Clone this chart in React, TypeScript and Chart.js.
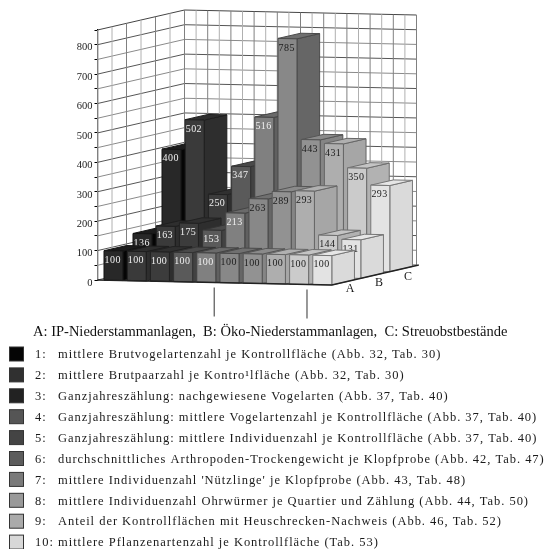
import React, { useEffect, useRef } from "react";
import { Chart, registerables, ScatterController } from "chart.js";

Chart.register(...registerables);

const rowNames = ["A", "B", "C"];
const seriesIds = ["1", "2", "3", "4", "5", "6", "7", "8", "9", "10"];
const rowA = [100, 100, 100, 100, 100, 100, 100, 100, 100, 100];
const rowB = [136, 163, 175, 153, 213, 263, 289, 293, 144, 131];
const rowC = [400, 502, 250, 347, 516, 785, 443, 431, 350, 293];
const yTicksMax = 850;

const frontColors = ["#282828", "#3a3a3a", "#3c3c3c", "#5a5a5a", "#808080", "#888888", "#929292", "#aeaeae", "#cbcbcb", "#e3e3e3"];
const sideColors = ["#050505", "#2e2e2e", "#2e2e2e", "#424242", "#606060", "#666666", "#858585", "#a6a6a6", "#b2b2b2", "#dadada"];
const topColors = ["#1c1c1c", "#2e2e2e", "#303030", "#4a4a4a", "#6a6a6a", "#707070", "#8a8a8a", "#b0b0b0", "#c4c4c4", "#e6e6e6"];
const edgeColors = ["#141414", "#1e1e1e", "#222222", "#333333", "#444444", "#4a4a4a", "#555555", "#666666", "#6e6e6e", "#777777"];
const swatchColors = ["#050505", "#303030", "#222222", "#555555", "#444444", "#5c5c5c", "#7a7a7a", "#999999", "#aaaaaa", "#d8d8d8"];

const legendTitle = "A: IP-Niederstammanlagen,  B: Öko-Niederstammanlagen,  C: Streuobstbestände";
const legendTexts = [
  "mittlere Brutvogelartenzahl je Kontrollfläche (Abb. 32, Tab. 30)",
  "mittlere Brutpaarzahl je Kontro¹lfläche (Abb. 32, Tab. 30)",
  "Ganzjahreszählung: nachgewiesene Vogelarten (Abb. 37, Tab. 40)",
  "Ganzjahreszählung: mittlere Vogelartenzahl je Kontrollfläche (Abb. 37, Tab. 40)",
  "Ganzjahreszählung: mittlere Individuenzahl je Kontrollfläche (Abb. 37, Tab. 40)",
  "durchschnittliches Arthropoden-Trockengewicht je Klopfprobe (Abb. 42, Tab. 47)",
  "mittlere Individuenzahl 'Nützlinge' je Klopfprobe (Abb. 43, Tab. 48)",
  "mittlere Individuenzahl Ohrwürmer je Quartier und Zählung (Abb. 44, Tab. 50)",
  "Anteil der Kontrollflächen mit Heuschrecken-Nachweis (Abb. 46, Tab. 52)",
  "mittlere Pflanzenartenzahl je Kontrollfläche (Tab. 53)",
];
const groupMarkers = [5.03, 9.03];

const SERIF = '"Liberation Serif"';

// oblique projection of (series, value, depth) through the chart's scales
function project(chart: any, x: number, y: number, z: number): [number, number] {
  const xs = chart.scales.x;
  const ys = chart.scales.y;
  const ds = chart.scales.depth;
  const px = xs.getPixelForValue(x);
  const py = ys.getPixelForValue(y);
  const dn = (ds.getPixelForValue(z) - ds.left) / ds.width;
  const sx = (px - xs.left) / xs.width;
  return [px + dn * 87, py + sx * 5 - dn * 20];
}

function poly(ctx: CanvasRenderingContext2D, pts: [number, number][], fill: string, stroke: string) {
  ctx.beginPath();
  pts.forEach((p, i) => (i ? ctx.lineTo(p[0], p[1]) : ctx.moveTo(p[0], p[1])));
  ctx.closePath();
  ctx.fillStyle = fill;
  ctx.fill();
  ctx.strokeStyle = stroke;
  ctx.lineWidth = 1;
  ctx.stroke();
}

const BAR_OFFSET = 0.28;
const BAR_WIDTH = 0.82;
const BAR_DEPTH = 0.78;

class Bar3DController extends ScatterController {
  static id = "bar3d";
  static defaults = { ...ScatterController.defaults };
  draw() {
    const chart: any = this.chart;
    const ctx: CanvasRenderingContext2D = chart.ctx;
    const data: any[] = this.getDataset().data as any[];
    const row = this.index;
    const z0 = row;
    const z1 = row + BAR_DEPTH;
    ctx.save();
    data.forEach((d, i) => {
      const x0 = d.x + BAR_OFFSET;
      const x1 = x0 + BAR_WIDTH;
      const edge = edgeColors[i];
      const A = project(chart, x0, 0, z0);
      const B = project(chart, x1, 0, z0);
      const C = project(chart, x1, d.y, z0);
      const D = project(chart, x0, d.y, z0);
      const E = project(chart, x1, 0, z1);
      const F = project(chart, x1, d.y, z1);
      const G = project(chart, x0, d.y, z1);
      poly(ctx, [B, E, F, C], sideColors[i], edge);
      poly(ctx, [D, C, F, G], topColors[i], edge);
      poly(ctx, [A, B, C, D], frontColors[i], edge);
      (ctx as any).letterSpacing = "0.4px";
      ctx.font = `10px ${SERIF}`;
      ctx.textAlign = "center";
      ctx.textBaseline = "middle";
      ctx.fillStyle = i < 5 ? "#f0f0f0" : "#1c1c1c";
      ctx.fillText(String(d.y), (D[0] + C[0]) / 2 - 0.8, D[1] + 9.5);
      (ctx as any).letterSpacing = "0px";
    });
    ctx.restore();
  }
}
Chart.register(Bar3DController as any);

const wallsPlugin = {
  id: "walls",
  beforeDatasetsDraw(chart: any) {
    const ctx: CanvasRenderingContext2D = chart.ctx;
    const line = (a: [number, number], b: [number, number], color = "#8a8a8a", w = 1) => {
      ctx.beginPath();
      ctx.moveTo(a[0], a[1]);
      ctx.lineTo(b[0], b[1]);
      ctx.strokeStyle = color;
      ctx.lineWidth = w;
      ctx.stroke();
    };
    ctx.save();
    for (let v = 0; v <= yTicksMax; v += 50) {
      const color = v === yTicksMax ? "#444444" : v % 100 === 0 ? "#555555" : "#8a8a8a";
      line(project(chart, 0, v, 0), project(chart, 0, v, 3), color);
      line(project(chart, 0, v, 3), project(chart, 10, v, 3), color);
    }
    for (let i = 0; i <= 20; i++) {
      const x = i / 2;
      line(project(chart, x, 0, 3), project(chart, x, yTicksMax, 3), i % 2 ? "#b0b0b0" : "#808080");
    }
    for (let i = 0; i <= 6; i++) {
      const z = i / 2;
      line(project(chart, 0, 0, z), project(chart, 0, yTicksMax, z), i % 2 ? "#b0b0b0" : "#808080");
    }
    ctx.restore();
  },
  afterDatasetsDraw(chart: any) {
    const ctx: CanvasRenderingContext2D = chart.ctx;
    const a = project(chart, 0, 0, 0);
    const b = project(chart, 10.1, 0, 0);
    const c = project(chart, 10.1, 0, 3);
    ctx.save();
    ctx.beginPath();
    ctx.moveTo(a[0], a[1]);
    ctx.lineTo(b[0], b[1]);
    ctx.lineTo(c[0], c[1]);
    ctx.strokeStyle = "#222222";
    ctx.lineWidth = 1.4;
    ctx.stroke();
    ctx.restore();
  },
  afterDraw(chart: any) {
    const ctx: CanvasRenderingContext2D = chart.ctx;
    ctx.save();
    // group marker lines under the floor
    groupMarkers.forEach((m) => {
      const p = project(chart, m, 0, 0);
      ctx.beginPath();
      ctx.moveTo(p[0], p[1] + 5);
      ctx.lineTo(p[0], p[1] + 34);
      ctx.strokeStyle = "#333333";
      ctx.lineWidth = 1;
      ctx.stroke();
    });
    // depth axis letters
    ctx.fillStyle = "#1a1a1a";
    ctx.font = `12px ${SERIF}`;
    ctx.textAlign = "center";
    ctx.textBaseline = "middle";
    rowNames.forEach((n, r) => {
      const p = project(chart, 10.4, 0, r + 0.39);
      ctx.fillText(n, p[0], p[1] + 6.5 + r * 0.6);
    });
    // caption and key
    ctx.textAlign = "left";
    ctx.fillStyle = "#111111";
    ctx.font = `14.52px ${SERIF}`;
    ctx.fillText(legendTitle, 33, 332);
    ctx.font = `12.5px ${SERIF}`;
    (ctx as any).letterSpacing = "0.97px";
    legendTexts.forEach((t, i) => {
      const y = 354.5 + i * 20.9;
      ctx.fillStyle = swatchColors[i];
      ctx.fillRect(9.5, y - 7.5, 14, 14);
      ctx.strokeStyle = "#333333";
      ctx.lineWidth = 1;
      ctx.strokeRect(9.5, y - 7.5, 14, 14);
      ctx.fillStyle = "#1a1a1a";
      ctx.fillText(`${seriesIds[i]}:`, 35, y + 0.5);
      ctx.fillText(t, 58, y + 0.5);
    });
    ctx.restore();
  },
};

const toPoints = (vals: number[]) => vals.map((v, i) => ({ x: i, y: v }));

export default function App() {
  const ref = useRef<HTMLCanvasElement>(null);
  useEffect(() => {
    const chart = new Chart(ref.current as HTMLCanvasElement, {
      type: "bar3d" as any,
      data: {
        datasets: [
          { label: rowNames[0], data: toPoints(rowA), clip: false },
          { label: rowNames[1], data: toPoints(rowB), clip: false },
          { label: rowNames[2], data: toPoints(rowC), clip: false },
        ] as any,
      },
      plugins: [wallsPlugin],
      options: {
        animation: false,
        responsive: false,
        events: [],
        layout: { padding: { left: 67.5, right: 220.5, top: 30, bottom: 269 } },
        plugins: { legend: { display: false }, tooltip: { enabled: false }, title: { display: false } },
        scales: {
          x: { type: "linear", min: 0, max: 10, display: false },
          depth: { type: "linear", axis: "x", min: 0, max: 3, display: false },
          y: {
            type: "linear",
            min: 0,
            max: yTicksMax,
            afterFit: (s: any) => {
              s.width = 30;
            },
            grid: { drawOnChartArea: false, drawTicks: true, tickLength: 3, color: "#000000" },
            border: { color: "#000000", width: 1.2 },
            ticks: {
              stepSize: 50,
              autoSkip: false,
              padding: 2,
              labelOffset: 3,
              color: "#1a1a1a",
              font: { family: "Liberation Serif", size: 10.5 },
              callback: (v: any) => (v % 100 === 0 ? String(v) : ""),
            },
          },
        },
      } as any,
    });
    return () => chart.destroy();
  }, []);
  return (
    <canvas
      ref={ref}
      width={550}
      height={549}
      style={{ position: "absolute", left: 0, top: 0, display: "block", width: 550, height: 549, filter: "blur(0.3px)" }}
    />
  );
}
